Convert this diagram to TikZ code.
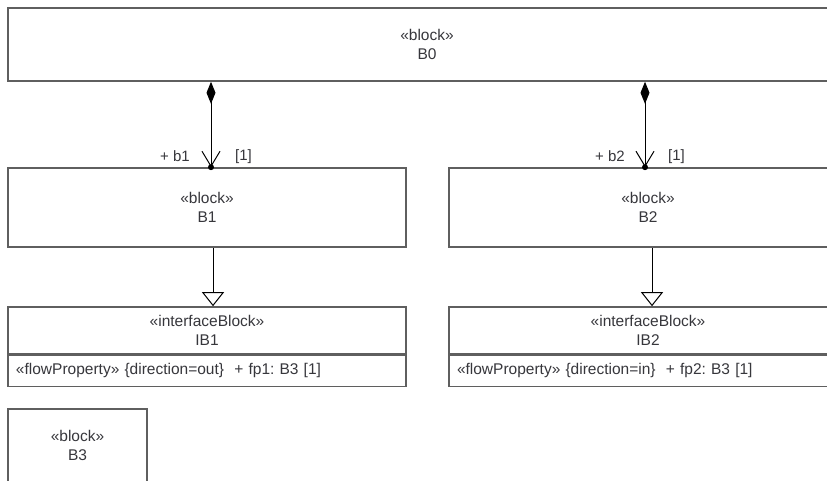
\documentclass[tikz,border=0pt]{standalone}
\usepackage{fontspec}
\setmainfont{Liberation Sans}
\usetikzlibrary{arrows.meta}
\definecolor{boxgray}{RGB}{95,95,95}
\definecolor{txtgray}{RGB}{55,55,60}
\frenchspacing
\tikzset{
  blk/.style={draw=boxgray,line width=1.6pt,fill=white,align=center,inner sep=0pt,
    text=txtgray,font=\fontsize{15.5}{18.5}\selectfont},
  attr/.style={draw=boxgray,line width=1.2pt,inner xsep=8pt,inner ysep=0pt,text=txtgray,
    font=\fontsize{15.5}{18.5}\selectfont,text width=382pt,minimum height=31pt},
  lbl/.style={inner sep=0pt,text=txtgray,font=\fontsize{15}{17}\selectfont},
  comp/.style={line width=1pt,{Diamond[length=22pt,width=9pt]}-{Straight Barb[length=15pt,width=18pt]}},
  gen/.style={line width=1pt,-{Triangle[open,fill=white,length=14pt,width=22pt]}}
}
\begin{document}
\begin{tikzpicture}[x=1pt,y=-1pt]
        \useasboundingbox[fill=white](0,0)rectangle(827,481);
        \clip(0,0)rectangle(827,481);
        \node[blk,minimum width=838pt,minimum height=73pt](B0)at(427,44.5){«block»\\B0};
        \node[blk,minimum width=398pt,minimum height=79pt](B1)at(207,207.5){«block»\\B1};
        \node[blk,minimum width=398pt,minimum height=79pt](B2)at(648,207.5){«block»\\B2};
        \node[blk,minimum width=398pt,minimum height=47pt](IB1)at(207,330.5){«interfaceBlock»\\IB1};
        \node[blk,minimum width=398pt,minimum height=47pt](IB2)at(648,330.5){«interfaceBlock»\\IB2};
        \node[attr,anchor=north,align=left](IB1a)at(IB1.south){«flowProperty» \{direction=out\}\ \ + fp1: B3 [1]};
        \node[attr,anchor=north,align=left](IB2a)at(IB2.south){«flowProperty» \{direction=in\}\ \ + fp2: B3 [1]};
        \node[blk,minimum width=139pt,minimum height=73pt](B3)at(77.5,445.5){«block»\\B3};
        \coordinate(c1)at(211,0);
        \coordinate(c2)at(645,0);
        \coordinate(g1)at(213,0);
        \coordinate(g2)at(652,0);
        \draw[comp](B0.south-|c1)--(B1.north-|c1)coordinate(e1);
        \draw[comp](B0.south-|c2)--(B2.north-|c2)coordinate(e2);
        \fill(e1)circle(3pt);
        \fill(e2)circle(3pt);
        \node[lbl,anchor=east](r1)at([xshift=-21pt,yshift=11pt]e1){+ b1};
        \node[lbl,anchor=west](m1)at([xshift=24pt,yshift=11pt]e1){[1]};
        \node[lbl,anchor=east](r2)at([xshift=-20pt,yshift=11pt]e2){+ b2};
        \node[lbl,anchor=west](m2)at([xshift=23pt,yshift=11pt]e2){[1]};
        \draw[gen](B1.south-|g1)--(IB1.north-|g1);
        \draw[gen](B2.south-|g2)--(IB2.north-|g2);
    \end{tikzpicture}
\end{document}
